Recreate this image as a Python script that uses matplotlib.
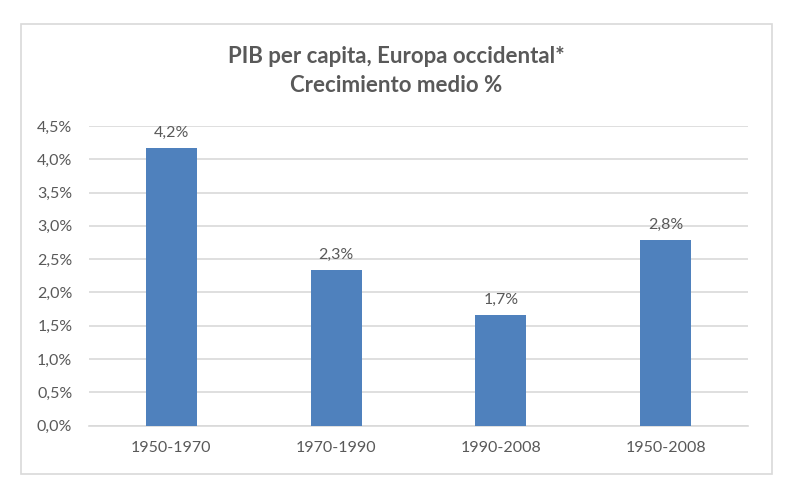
import matplotlib
matplotlib.use("Agg")
import matplotlib.pyplot as plt
from matplotlib.patches import Rectangle
from matplotlib.ticker import FuncFormatter

categories = ["1950-1970", "1970-1990", "1990-2008", "1950-2008"]
values = [4.17, 2.33, 1.66, 2.78]
yticks = [0.0, 0.5, 1.0, 1.5, 2.0, 2.5, 3.0, 3.5, 4.0, 4.5]

plt.rcParams['font.family'] = ['Lato', 'DejaVu Sans']
txt = '#595959'

fig = plt.figure(figsize=(8, 5), dpi=100)
fig.patches.append(Rectangle((21/800, 1-474/500), (772-21)/800, (474-24)/500,
                             transform=fig.transFigure, fill=False,
                             edgecolor='#D9D9D9', linewidth=1.2))
ax = fig.add_axes([89/800, 1-425.5/500, (748-89)/800, (425.5-126)/500])
x = range(len(categories))
bars = ax.bar(x, values, width=0.31, color='#4F81BD', zorder=3)
for xi, v in zip(x, values):
    ax.annotate(f"{v:.1f}%".replace('.', ','), (xi, v), xytext=(0, 6),
                textcoords='offset points', ha='center', va='bottom',
                fontsize=11.5, color=txt)
ax.set_xlim(-0.5, len(categories) - 0.5)
ax.set_ylim(0, 4.5)
ax.set_yticks(yticks)
ax.yaxis.set_major_formatter(FuncFormatter(lambda v, p: f"{v:.1f}%".replace('.', ',')))
ax.set_xticks(list(x))
ax.set_xticklabels(categories)
ax.tick_params(axis='both', length=0, colors=txt, labelsize=11.5)
ax.tick_params(axis='x', pad=11)
ax.tick_params(axis='y', pad=12)
ax.grid(axis='y', color='#D9D9D9', linewidth=1.2, zorder=0)
for s in ['top', 'right', 'left']:
    ax.spines[s].set_visible(False)
ax.spines['bottom'].set_color('#D9D9D9')
ax.spines['bottom'].set_linewidth(1.2)
fig.text(396/800, 1-71/500, "PIB per capita, Europa occidental*\nCrecimiento medio %",
         ha='center', va='center', fontsize=16, fontweight='bold', color=txt,
         linespacing=1.45)
fig.savefig("out.png", dpi=100)
